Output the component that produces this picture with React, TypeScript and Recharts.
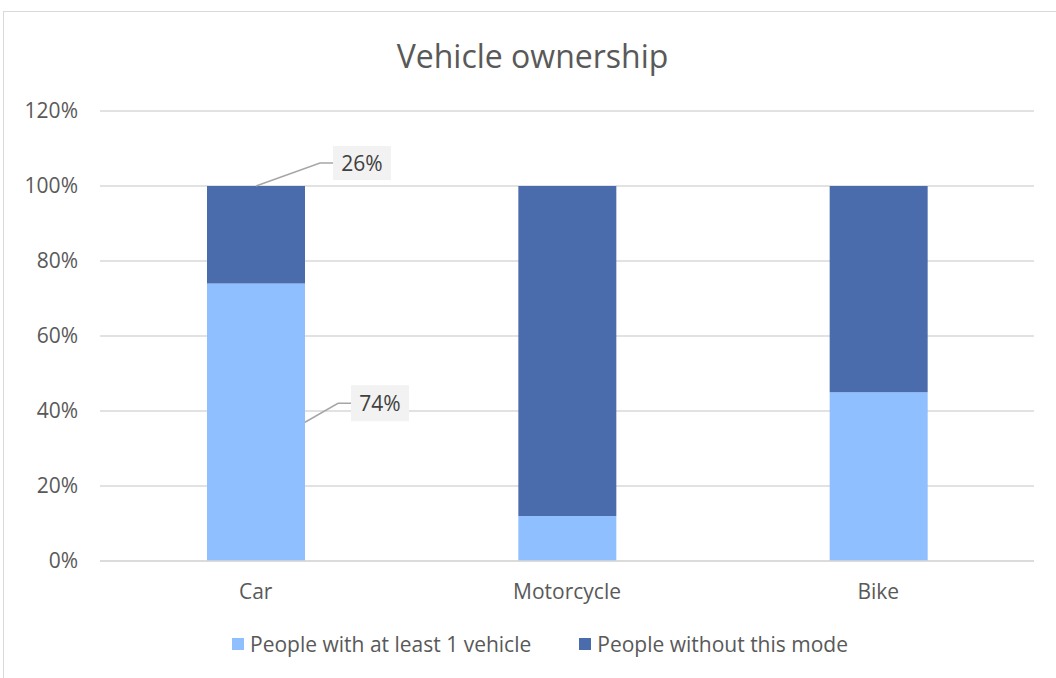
import React from 'react';
import { BarChart, Bar, XAxis, YAxis, CartesianGrid, Legend, LabelList } from 'recharts';

const categories = ['Car', 'Motorcycle', 'Bike'];
const withVehicle = [0.74, 0.12, 0.45];
const withoutMode = [0.26, 0.88, 0.55];
const yTicks = [0, 0.2, 0.4, 0.6, 0.8, 1.0, 1.2];
const seriesNames = ['People with at least 1 vehicle', 'People without this mode'];
const seriesColors = ['#8FBFFF', '#4A6CAC'];

const data = categories.map((c, i) => ({ name: c, a: withVehicle[i], b: withoutMode[i] }));

const FONT = '"Open Sans", "Noto Sans", sans-serif';
const TEXT = '#595959';

const pct = (v: number) => `${Math.round(v * 100)}%`;

const TopLabel = (props: any) => {
  const { x, y, width, value, index } = props;
  if (index !== 0) return null;
  const cx = x + width / 2;
  const ly = y - 23;
  return (
    <g>
      <polyline points={`${cx},${y} ${cx + 64},${ly} ${cx + 77},${ly}`} fill="none" stroke="#A6A6A6" strokeWidth={1.5} />
      <rect x={cx + 77} y={ly - 17} width={58} height={34} fill="#F2F2F2" />
      <text x={cx + 106} y={ly} textAnchor="middle" dominantBaseline="central" fontFamily={FONT} fontSize={21} fill="#404040">
        {pct(value)}
      </text>
    </g>
  );
};

const MidLabel = (props: any) => {
  const { x, y, width, height, value, index } = props;
  if (index !== 0) return null;
  const sx = x + width;
  const sy = y + height / 2;
  const ly = sy - 19;
  return (
    <g>
      <polyline points={`${sx},${sy} ${sx + 33},${ly} ${sx + 46},${ly}`} fill="none" stroke="#A6A6A6" strokeWidth={1.5} />
      <rect x={sx + 46} y={ly - 18} width={58} height={36} fill="#F2F2F2" />
      <text x={sx + 75} y={ly} textAnchor="middle" dominantBaseline="central" fontFamily={FONT} fontSize={21} fill="#404040">
        {pct(value)}
      </text>
    </g>
  );
};

const LegendContent = () => (
  <div style={{ display: 'flex', justifyContent: 'center', gap: 48, fontFamily: FONT, fontSize: 21, color: TEXT, paddingLeft: 24 }}>
    {seriesNames.map((n, i) => (
      <div key={n} style={{ display: 'flex', alignItems: 'center' }}>
        <span style={{ width: 12, height: 12, background: seriesColors[i], display: 'inline-block', marginRight: 6 }} />
        <span>{n}</span>
      </div>
    ))}
  </div>
);

export default function App() {
  return (
    <div style={{ position: 'absolute', left: 0, top: 0, width: 1056, height: 678, background: '#fff', overflow: 'hidden' }}>
      <div style={{ position: 'absolute', left: 3, top: 11, width: 1100, height: 700, border: '1px solid #D9D9D9', boxSizing: 'border-box' }} />
      <div style={{ position: 'absolute', left: 0, top: 34, width: 1065, textAlign: 'center', fontFamily: FONT, fontSize: 32, color: TEXT }}>
        Vehicle ownership
      </div>
      <div style={{ position: 'absolute', left: 0, top: 0 }}>
        <BarChart width={1056} height={678} data={data} margin={{ top: 111, right: 22, left: 0, bottom: 77 }}>
          <CartesianGrid vertical={false} stroke="#D9D9D9" strokeWidth={1.5} />
          <XAxis dataKey="name" axisLine={{ stroke: '#D9D9D9', strokeWidth: 1.5 }} tickLine={false}
            tick={{ fill: TEXT, fontSize: 21, fontFamily: FONT }} tickMargin={17} height={40} />
          <YAxis domain={[0, 1.2]} ticks={yTicks} tickFormatter={pct} axisLine={false} tickLine={false} width={100}
            tick={{ fill: TEXT, fontSize: 21, fontFamily: FONT }} tickMargin={16} />
          <Legend layout="horizontal" verticalAlign="middle" align="center" content={<LegendContent />}
            wrapperStyle={{ top: 630, left: 0, width: 1056 }} />
          <Bar dataKey="a" name={seriesNames[0]} stackId="s" fill={seriesColors[0]} barSize={98} isAnimationActive={false}>
            <LabelList dataKey="a" content={MidLabel} />
          </Bar>
          <Bar dataKey="b" name={seriesNames[1]} stackId="s" fill={seriesColors[1]} barSize={98} isAnimationActive={false}>
            <LabelList dataKey="b" content={TopLabel} />
          </Bar>
        </BarChart>
      </div>
    </div>
  );
}
